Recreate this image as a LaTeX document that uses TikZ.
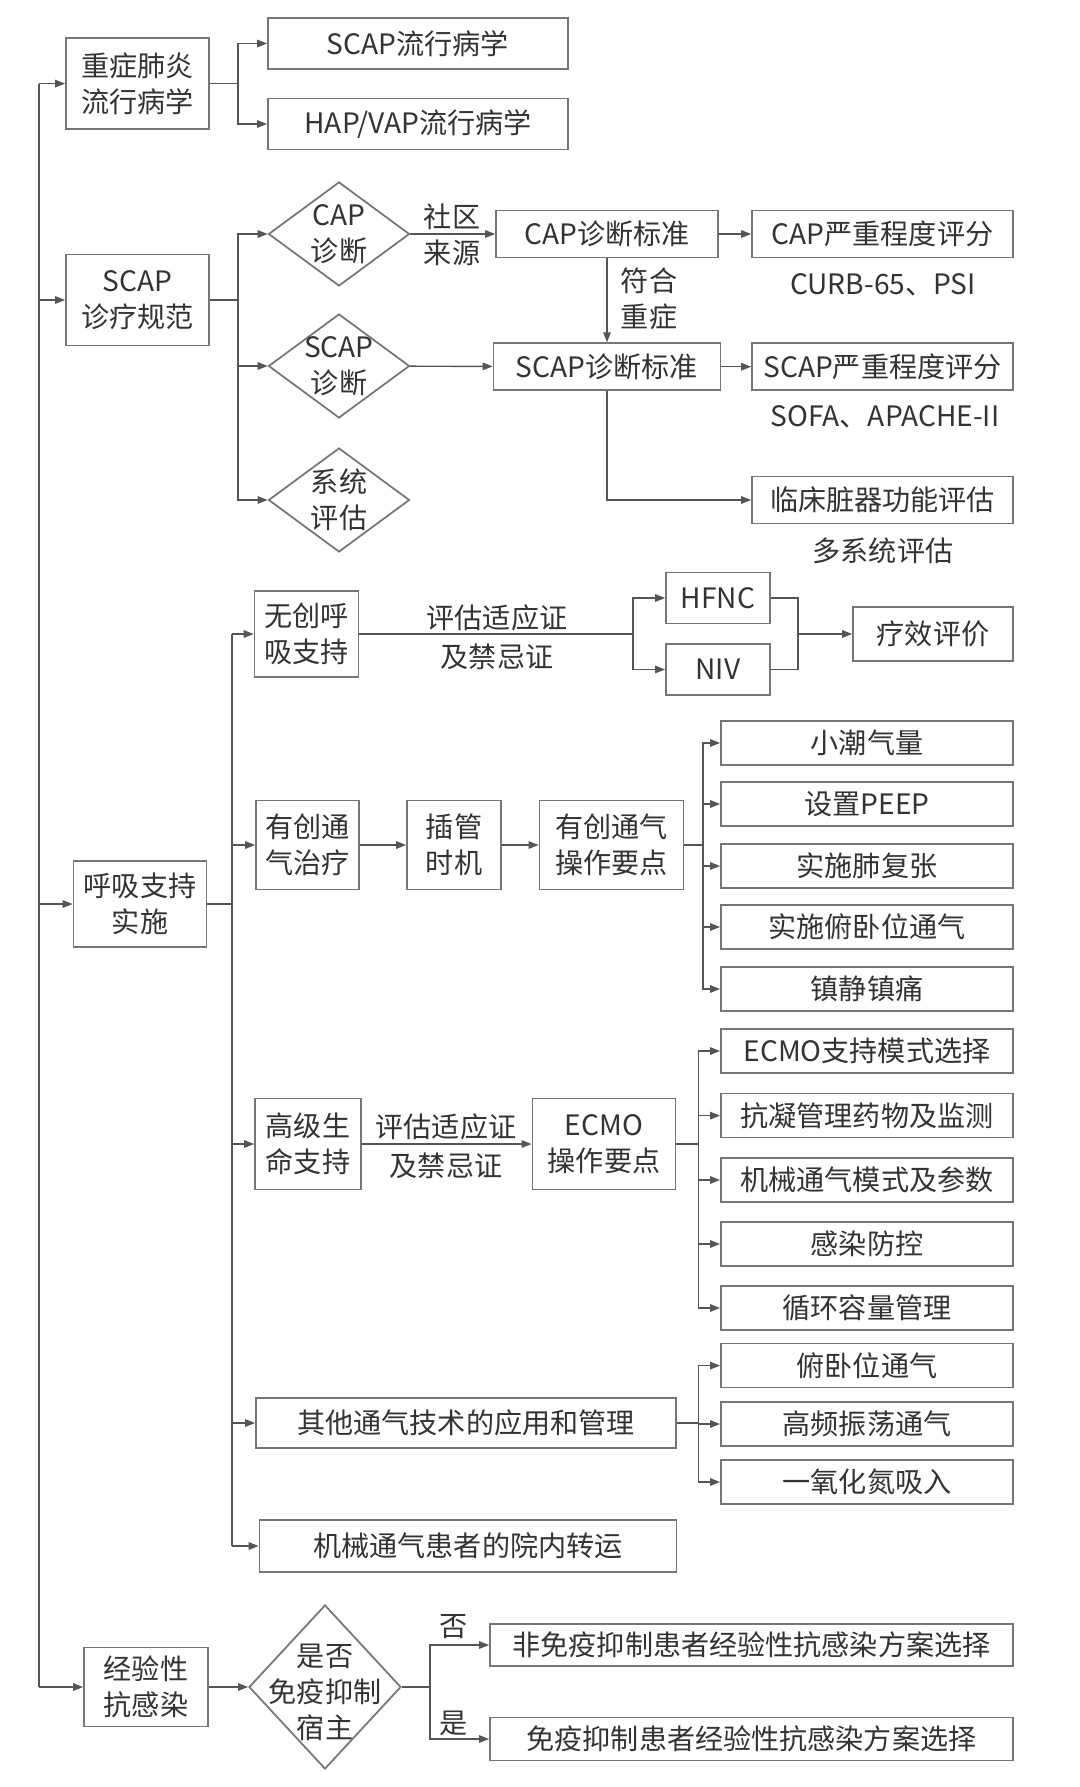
\documentclass[tikz,border=0pt]{standalone}
\usepackage{fontspec}
\setmainfont{Noto Sans CJK SC}
\usetikzlibrary{arrows.meta, shapes.geometric}

\definecolor{txtc}{HTML}{333333}
\definecolor{linec}{HTML}{555555}
\definecolor{framec}{HTML}{767676}

\tikzset{
    bx/.style={draw=framec, line width=1pt, text=txtc, align=center, inner sep=0pt},
    dia/.style={diamond, draw=framec, line width=1pt, inner sep=0pt},
    txt/.style={text=txtc, align=center, inner sep=0pt},
    wh/.style 2 args={minimum width=#1*0.02cm, minimum height=#2*0.02cm},
    rbox/.style={bx, wh={292}{44}},
    ln/.style={draw=linec, line width=0.8pt},
    arr/.style={ln, -{Triangle[length=2mm, width=1.5mm]}},
}

\begin{document}
\begin{tikzpicture}[x=0.02cm, y=-0.02cm, font=\fontsize{16}{20.5}\selectfont]
    \path[use as bounding box, fill=white] (0,0) rectangle (1079,1787);

    % main column
    \node[bx, wh={143}{91}] (epi) at (137.5,83.6) {重症肺炎\\流行病学};
    \node[bx, wh={143}{91}] (norm) at (137.5,300) {SCAP\\诊疗规范};
    \node[bx, wh={133}{86}] (resp) at (140,904) {呼吸支持\\实施};
    \node[bx, wh={124}{79}] (anti) at (146,1687) {经验性\\抗感染};

    \coordinate (ttop) at (39,83.6);
    \coordinate (tbot) at (39,1687);
    \draw[ln] (ttop) -- (tbot);
    \foreach \n in {epi,norm,resp,anti}
        \draw[arr] (ttop |- \n.west) -- (\n.west);

    % epidemiology
    \node[bx, wh={300}{51}] (epiA) at (418,43.5) {SCAP流行病学};
    \node[bx, wh={300}{51}] (epiB) at (418,124) {HAP/VAP流行病学};
    \coordinate (bepi) at (238,83.6);
    \draw[ln] (epi) -- (bepi);
    \draw[arr] (bepi) |- (epiA);
    \draw[arr] (bepi) |- (epiB);

    % diagnosis
    \node[dia, wh={141}{104}] (capd) at (339,234) {};
    \node[txt] (capdt) at (capd) {CAP\\诊断};
    \node[dia, wh={141}{104}] (scapd) at (339,366) {};
    \node[txt] (scapdt) at (scapd) {SCAP\\诊断};
    \node[dia, wh={141}{104}] (sysd) at (339,500) {};
    \node[txt] (sysdt) at (sysd) {系统\\评估};
    \coordinate (bnorm) at (238,300);
    \draw[ln] (norm) -- (bnorm);
    \foreach \n in {capd,scapd,sysd}
        \draw[arr] (bnorm) |- (\n);

    \node[bx, wh={222}{47}] (capc) at (607,234) {CAP诊断标准};
    \node[bx, wh={227}{47}] (scapc) at (607,366.7) {SCAP诊断标准};
    \node[bx, wh={261}{47}] (caps) at (882.5,234) {CAP严重程度评分};
    \node[bx, wh={261}{47}] (scaps) at (882.5,366.7) {SCAP严重程度评分};
    \node[bx, wh={261}{47}] (organ) at (882.5,500) {临床脏器功能评估};
    \node[txt] (capsn) at (883,285) {CURB-65、PSI};
    \node[txt] (scapsn) at (885,417) {SOFA、APACHE-II};
    \node[txt] (organn) at (883,551) {多系统评估};
    \node[txt] (srcl) at (452,235) {社区\\来源};
    \node[txt] (sevl) at (649,299) {符合\\重症};

    \draw[arr] (capd) -- (capc);
    \draw[arr] (capc) -- (caps);
    \draw[arr] (capc) -- (scapc);
    \draw[arr] (scapd) -- (scapc);
    \draw[arr] (scapc) -- (scaps);
    \draw[arr] (scapc) |- (organ);

    % respiratory support
    \node[bx, wh={104}{86}] (niv0) at (306.6,634) {无创呼\\吸支持};
    \node[bx, wh={103}{89}] (inv) at (307.5,845) {有创通\\气治疗};
    \node[bx, wh={106}{91}] (ecls) at (308,1144) {高级生\\命支持};
    \node[bx, wh={420}{50}] (other) at (466,1423) {其他通气技术的应用和管理};
    \node[bx, wh={417}{52}] (trans) at (468,1546) {机械通气患者的院内转运};
    \coordinate (bresp) at (232,904);
    \draw[ln] (resp) -- (bresp);
    \draw[ln] (bresp |- niv0) -- (bresp |- trans);
    \foreach \n in {niv0,inv,ecls,other,trans}
        \draw[arr] (bresp |- \n) -- (\n);

    % non-invasive
    \node[bx, wh={104}{51}] (hfnc) at (718,598) {HFNC};
    \node[bx, wh={104}{51}] (nivb) at (718,669.5) {NIV};
    \node[bx, wh={160}{54}] (eff) at (933,634) {疗效评价};
    \node[txt] (nivl) at (497,637) {评估适应证\\[2pt]及禁忌证};
    \coordinate (bniv) at (633,634);
    \coordinate (jniv) at (798,634);
    \draw[ln] (niv0) -- (bniv);
    \draw[arr] (bniv) |- (hfnc);
    \draw[arr] (bniv) |- (nivb);
    \draw[ln] (hfnc) -| (jniv);
    \draw[ln] (nivb) -| (jniv);
    \draw[arr] (jniv) -- (eff);

    % invasive
    \node[bx, wh={94}{89}] (intub) at (454,845) {插管\\时机};
    \node[bx, wh={144}{89}] (invop) at (611.5,845) {有创通气\\操作要点};
    \node[rbox] (tv) at (867,743) {小潮气量};
    \node[rbox] (peep) at (867,804) {设置PEEP};
    \node[rbox] (rm) at (867,866) {实施肺复张};
    \node[rbox] (prone) at (867,927) {实施俯卧位通气};
    \node[rbox] (sed) at (867,989) {镇静镇痛};
    \draw[arr] (inv) -- (intub);
    \draw[arr] (intub) -- (invop);
    \coordinate (binv) at (703,845);
    \draw[ln] (invop) -- (binv);
    \foreach \n in {tv,peep,rm,prone,sed}
        \draw[arr] (binv) |- (\n);

    % ECMO
    \node[bx, wh={143}{91}] (ecmo) at (604,1144) {ECMO\\操作要点};
    \node[txt] (eclsl) at (446,1146) {评估适应证\\[2pt]及禁忌证};
    \node[rbox] (em1) at (867,1051) {ECMO支持模式选择};
    \node[rbox] (em2) at (867,1115.6) {抗凝管理药物及监测};
    \node[rbox] (em3) at (867,1180) {机械通气模式及参数};
    \node[rbox] (em4) at (867,1244) {感染防控};
    \node[rbox] (em5) at (867,1308) {循环容量管理};
    \draw[arr] (ecls) -- (ecmo);
    \coordinate (becmo) at (698.5,1144);
    \draw[ln] (ecmo) -- (becmo);
    \foreach \n in {em1,em2,em3,em4,em5}
        \draw[arr] (becmo) |- (\n);

    % other techniques
    \node[rbox] (ot1) at (867,1365.6) {俯卧位通气};
    \node[rbox] (ot2) at (867,1424) {高频振荡通气};
    \node[rbox] (ot3) at (867,1482) {一氧化氮吸入};
    \coordinate (both) at (698.5,1423);
    \draw[ln] (other) -- (both);
    \foreach \n in {ot1,ot2,ot3}
        \draw[arr] (both) |- (\n);

    % anti-infection
    \node[dia, wh={152}{164}] (immd) at (325,1687) {};
    \node[txt] (immdt) at (325,1692) {是否\\免疫抑制\\宿主};
    \node[bx, wh={523}{42}] (nonimm) at (751.5,1645) {非免疫抑制患者经验性抗感染方案选择};
    \node[bx, wh={523}{43}] (imm) at (751.5,1739) {免疫抑制患者经验性抗感染方案选择};
    \node[txt] (nol) at (454,1627) {否};
    \node[txt] (yesl) at (454,1723) {是};
    \draw[arr] (anti) -- (immd);
    \coordinate (banti) at (430,1687);
    \draw[ln] (immd) -- (banti);
    \draw[arr] (banti) |- (nonimm);
    \draw[arr] (banti) |- (imm);
\end{tikzpicture}
\end{document}
